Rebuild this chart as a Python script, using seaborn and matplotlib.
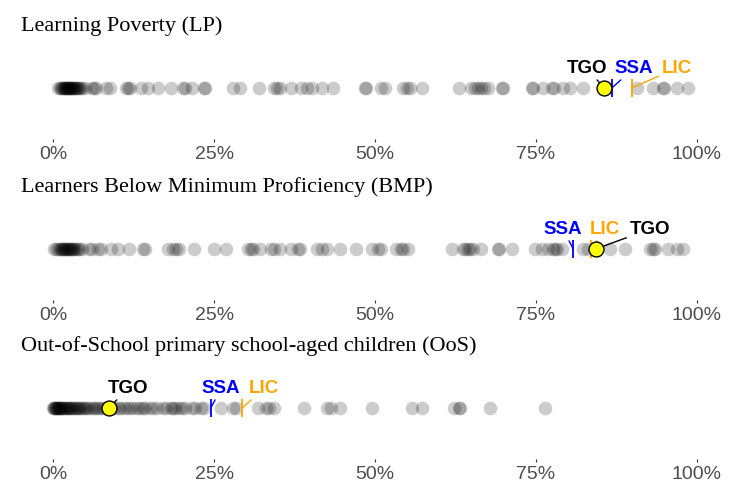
import matplotlib
matplotlib.use('Agg')
import matplotlib.pyplot as plt
import seaborn as sns

# values (percent)
lp_values = [0.8, 1.0, 1.2, 1.4, 1.5, 1.7, 1.8, 1.9, 2.0, 2.1, 2.2, 2.3, 2.4, 2.5,
             2.6, 2.7, 2.8, 3.0, 3.1, 3.2, 3.3, 3.5, 3.6, 3.8, 4.0, 4.2, 4.5, 5.0,
             6.0, 6.3, 6.6, 8.2, 8.8, 11.3, 11.6, 11.9, 13.6, 14.7, 16.3, 18.3,
             20.2, 20.5, 21.6, 23.4, 23.6, 28.0, 29.0, 32.0, 34.3, 34.8, 35.3, 36.9,
             38.5, 39.5, 40.2, 41.8, 43.4, 48.5, 48.6, 51.0, 51.5, 54.4, 55.0, 55.5,
             57.3, 63.0, 64.9, 65.6, 66.0, 66.5, 67.0, 67.5, 69.8, 69.9, 74.4, 74.6,
             76.1, 77.5, 77.8, 79.2, 80.3, 82.3, 90.7, 93.2, 94.7, 94.9, 96.9, 98.6]
bmp_values = [0.2, 0.5, 0.8, 1.0, 1.2, 1.4, 1.5, 1.7, 1.8, 2.0, 2.1, 2.3, 2.5, 2.6,
              2.8, 3.0, 3.1, 3.3, 3.6, 3.8, 4.0, 4.5,
              5.6, 6.0, 7.0, 7.4, 9.0, 10.0, 11.8, 14.0, 14.3, 17.8, 18.6, 19.1,
              19.5, 21.9, 25.0, 26.8, 30.2, 30.7, 31.0, 32.2, 33.8, 34.3, 35.3, 36.9,
              38.1, 38.3, 41.0, 41.8, 42.6, 44.6, 47.0, 49.6, 50.4, 50.9, 53.2, 54.0,
              54.3, 55.2, 62.0, 63.6, 64.0, 64.5, 64.8, 65.3, 66.4, 69.1, 69.3, 71.3,
              74.9, 76.0, 76.9, 77.7, 78.0, 78.3, 79.0, 82.3, 83.1, 86.5, 88.8, 92.7,
              93.2, 93.5, 95.5, 96.9, 97.8]
oos_values = [0.0, 0.1, 0.2, 0.3, 0.4, 0.5, 0.6, 0.7, 0.8, 0.9, 1.0, 1.1, 1.2, 1.3,
              1.5, 1.6, 1.8, 2.0, 2.1, 2.3, 2.5, 2.6, 2.8, 3.0, 3.2, 3.4, 3.6, 3.8,
              4.0, 4.2, 4.5, 4.8, 5.0, 5.3, 5.6, 6.0, 6.3, 6.7, 7.0, 7.4, 7.8, 8.2,
              8.6, 9.0, 9.5, 10.0, 10.4, 11.0, 11.5, 12.0, 12.4, 13.0, 13.5, 14.0,
              14.3, 15.0, 15.5, 16.2, 17.0, 17.6, 18.3, 18.6, 19.0, 19.5, 20.0, 20.5,
              21.5, 22.0, 23.0, 23.5, 26.0, 28.0, 28.4, 31.8, 33.0, 33.5, 34.3, 38.9,
              42.6, 43.1, 44.6, 49.6, 55.8, 57.3, 62.2, 63.0, 63.2, 67.9, 76.4]

titles = ["Learning Poverty (LP)",
          "Learners Below Minimum Proficiency (BMP)",
          "Out-of-School primary school-aged children (OoS)"]
tgo = [85.6, 84.3, 8.7]
ssa = [86.8, 80.8, 24.5]
lic = [89.9, 83.6, 29.4]
ticks = [0, 25, 50, 75, 100]
tick_labels = ["0%", "25%", "50%", "75%", "100%"]

# label text x positions (layout only)
label_x = [
    {"TGO": 82.9, "SSA": 90.2, "LIC": 96.9},
    {"TGO": 92.7, "SSA": 79.2, "LIC": 85.7},
    {"TGO": 11.6, "SSA": 26.1, "LIC": 32.7},
]

sns.set_theme(style="white")
plt.rcParams['font.family'] = ['Liberation Sans', 'DejaVu Sans']

W, H = 735, 484
fig = plt.figure(figsize=(W / 100, H / 100), dpi=100)

panel_tops = [37, 198, 357]
panel_h = 102
series = [lp_values, bmp_values, oos_values]
colors = {"TGO": "black", "SSA": "#0000FF", "LIC": "#FFA500"}

for i in range(3):
    ax = fig.add_axes([21 / W, 1 - (panel_tops[i] + panel_h) / H, 708 / W, panel_h / H])
    sns.stripplot(x=series[i], ax=ax, jitter=False, color="black", alpha=0.2,
                  size=9.8, linewidth=0, orient="h", zorder=1)
    ax.set_xlim(-5, 105)
    ax.set_ylim(1, -1)

    # reference markers
    for key, val in (("SSA", ssa[i]), ("LIC", lic[i])):
        ax.plot([val], [0], marker="|", markersize=12.5, markeredgewidth=1.3,
                color=colors[key], zorder=3, linestyle="none")
    ax.scatter([tgo[i]], [0], s=115, color="#FFFF00", edgecolor="black",
               linewidth=1.0, zorder=5)

    vals = {"TGO": tgo[i], "SSA": ssa[i], "LIC": lic[i]}
    for key in ("TGO", "SSA", "LIC"):
        ax.annotate(key, xy=(vals[key], 0), xytext=(label_x[i][key], -0.39),
                    ha="center", va="center", fontsize=13.5, fontweight="bold",
                    color=colors[key], zorder=4,
                    arrowprops=dict(arrowstyle="-", color=colors[key], lw=1.0,
                                    shrinkA=0, shrinkB=5 if key == "TGO" else 0))

    ax.set_xticks(ticks)
    ax.set_xticklabels(tick_labels)
    ax.set_yticks([])
    ax.set_ylabel("")
    ax.tick_params(axis="x", bottom=True, length=2.5, width=0.8, color="#333333",
                   labelsize=14, labelcolor="#4D4D4D", pad=2.5)
    for s in ax.spines.values():
        s.set_visible(False)
    ax.set_title(titles[i], loc="left", fontsize=16, family="Liberation Serif",
                 pad=4, color="black")

fig.savefig("out.png", dpi=100)
